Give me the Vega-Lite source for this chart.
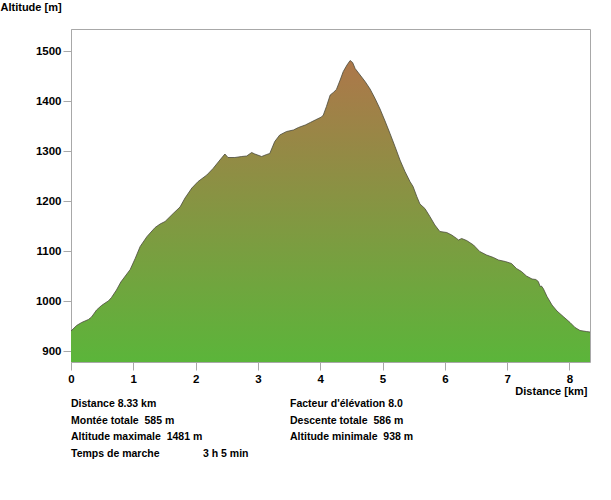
{
  "$schema": "https://vega.github.io/schema/vega-lite/v6.json",
  "width": 519,
  "height": 333,
  "autosize": "none",
  "padding": {"left": 71, "top": 29, "right": 21, "bottom": 138},
  "background": "white",
  "config": {
    "view": {"stroke": "#a8a8a8", "strokeWidth": 1},
    "font": "Liberation Sans"
  },
  "datasets": {
    "profile": [
      {"km": 0.00, "alt": 940}, {"km": 0.09, "alt": 951}, {"km": 0.17, "alt": 957},
      {"km": 0.28, "alt": 963}, {"km": 0.33, "alt": 968}, {"km": 0.41, "alt": 982},
      {"km": 0.49, "alt": 991}, {"km": 0.56, "alt": 997}, {"km": 0.60, "alt": 1000},
      {"km": 0.65, "alt": 1007}, {"km": 0.73, "alt": 1022}, {"km": 0.80, "alt": 1038},
      {"km": 0.86, "alt": 1048}, {"km": 0.95, "alt": 1063}, {"km": 1.03, "alt": 1085},
      {"km": 1.11, "alt": 1109}, {"km": 1.22, "alt": 1129}, {"km": 1.35, "alt": 1147},
      {"km": 1.43, "alt": 1154}, {"km": 1.51, "alt": 1159}, {"km": 1.64, "alt": 1175},
      {"km": 1.75, "alt": 1188}, {"km": 1.83, "alt": 1206}, {"km": 1.94, "alt": 1226},
      {"km": 2.04, "alt": 1239}, {"km": 2.18, "alt": 1252}, {"km": 2.28, "alt": 1265},
      {"km": 2.39, "alt": 1282}, {"km": 2.47, "alt": 1294}, {"km": 2.52, "alt": 1287},
      {"km": 2.63, "alt": 1287}, {"km": 2.74, "alt": 1289}, {"km": 2.82, "alt": 1290},
      {"km": 2.90, "alt": 1297}, {"km": 2.95, "alt": 1294}, {"km": 3.06, "alt": 1289},
      {"km": 3.14, "alt": 1293}, {"km": 3.19, "alt": 1295}, {"km": 3.27, "alt": 1319},
      {"km": 3.35, "alt": 1332}, {"km": 3.46, "alt": 1339}, {"km": 3.57, "alt": 1342},
      {"km": 3.65, "alt": 1347}, {"km": 3.76, "alt": 1352}, {"km": 3.84, "alt": 1357},
      {"km": 3.92, "alt": 1362}, {"km": 4.02, "alt": 1368}, {"km": 4.05, "alt": 1372},
      {"km": 4.10, "alt": 1389}, {"km": 4.16, "alt": 1412}, {"km": 4.21, "alt": 1417},
      {"km": 4.26, "alt": 1423}, {"km": 4.32, "alt": 1442}, {"km": 4.37, "alt": 1459},
      {"km": 4.43, "alt": 1472}, {"km": 4.48, "alt": 1481}, {"km": 4.52, "alt": 1477},
      {"km": 4.56, "alt": 1465}, {"km": 4.64, "alt": 1452}, {"km": 4.72, "alt": 1439},
      {"km": 4.80, "alt": 1424}, {"km": 4.88, "alt": 1405}, {"km": 4.96, "alt": 1384},
      {"km": 5.04, "alt": 1360}, {"km": 5.12, "alt": 1335}, {"km": 5.20, "alt": 1309},
      {"km": 5.28, "alt": 1282}, {"km": 5.36, "alt": 1259}, {"km": 5.44, "alt": 1239},
      {"km": 5.49, "alt": 1229}, {"km": 5.55, "alt": 1209}, {"km": 5.60, "alt": 1194},
      {"km": 5.68, "alt": 1185}, {"km": 5.76, "alt": 1169}, {"km": 5.84, "alt": 1152},
      {"km": 5.92, "alt": 1139}, {"km": 6.03, "alt": 1137}, {"km": 6.11, "alt": 1132},
      {"km": 6.19, "alt": 1125}, {"km": 6.22, "alt": 1122}, {"km": 6.27, "alt": 1125},
      {"km": 6.35, "alt": 1121}, {"km": 6.46, "alt": 1112}, {"km": 6.56, "alt": 1099},
      {"km": 6.67, "alt": 1092}, {"km": 6.78, "alt": 1087}, {"km": 6.86, "alt": 1082},
      {"km": 6.97, "alt": 1079}, {"km": 7.07, "alt": 1075}, {"km": 7.15, "alt": 1065},
      {"km": 7.23, "alt": 1059}, {"km": 7.31, "alt": 1050}, {"km": 7.40, "alt": 1044},
      {"km": 7.46, "alt": 1043}, {"km": 7.50, "alt": 1039}, {"km": 7.53, "alt": 1029},
      {"km": 7.55, "alt": 1030}, {"km": 7.58, "alt": 1025}, {"km": 7.64, "alt": 1009},
      {"km": 7.72, "alt": 992}, {"km": 7.80, "alt": 980}, {"km": 7.90, "alt": 969},
      {"km": 8.01, "alt": 957}, {"km": 8.09, "alt": 947}, {"km": 8.17, "alt": 941},
      {"km": 8.27, "alt": 939}, {"km": 8.33, "alt": 938}
    ],
    "stats": [
      {"col": 0, "line": 0, "text": "Distance 8.33 km"},
      {"col": 0, "line": 1, "text": "Montée totale\u00a0 585 m"},
      {"col": 0, "line": 2, "text": "Altitude maximale\u00a0 1481 m"},
      {"col": 0, "line": 3, "text": "Temps de marche", "value": "3 h 5 min"},
      {"col": 1, "line": 0, "text": "Facteur d'élévation 8.0"},
      {"col": 1, "line": 1, "text": "Descente totale\u00a0 586 m"},
      {"col": 1, "line": 2, "text": "Altitude minimale\u00a0 938 m"}
    ]
  },
  "layer": [
    {
      "data": {"name": "profile"},
      "layer": [
        {
          "mark": {
            "type": "area",
            "clip": true,
            "fill": {
              "gradient": "linear",
              "x1": 0, "y1": 0, "x2": 0, "y2": 1,
              "stops": [
                {"offset": 0, "color": "#ad774a"},
                {"offset": 1, "color": "#5bb53a"}
              ]
            }
          },
          "encoding": {
            "x": {
              "field": "km", "type": "quantitative",
              "scale": {"domain": [0, 8.33], "nice": false, "zero": false},
              "axis": {
                "values": [0, 1, 2, 3, 4, 5, 6, 7, 8],
                "format": "d",
                "grid": false,
                "domain": false,
                "tickColor": "#a8a8a8",
                "tickSize": 8,
                "labelFlush": false,
                "labelPadding": 3,
                "labelFont": "Liberation Sans",
                "labelFontSize": 11.5,
                "labelFontWeight": "bold",
                "labelColor": "#000000",
                "title": "Distance [km]",
                "titleFont": "Liberation Sans",
                "titleFontSize": 11,
                "titleFontWeight": "bold",
                "titleColor": "#000000",
                "titleAlign": "right",
                "titleBaseline": "middle",
                "titleX": 516,
                "titleY": 29
              }
            },
            "y": {
              "field": "alt", "type": "quantitative",
              "scale": {"domain": [878, 1544], "nice": false, "zero": false},
              "axis": {
                "values": [900, 1000, 1100, 1200, 1300, 1400, 1500],
                "format": "d",
                "grid": false,
                "domainColor": "#a8a8a8",
                "tickColor": "#a8a8a8",
                "tickSize": 8,
                "labelPadding": 2,
                "labelFont": "Liberation Sans",
                "labelFontSize": 11.5,
                "labelFontWeight": "bold",
                "labelColor": "#000000",
                "title": "Altitude [m]",
                "titleFont": "Liberation Sans",
                "titleFontSize": 11,
                "titleFontWeight": "bold",
                "titleColor": "#000000",
                "titleAngle": 0,
                "titleAlign": "left",
                "titleBaseline": "middle",
                "titleX": -71,
                "titleY": -22
              }
            },
            "y2": {"datum": 878}
          }
        },
        {
          "mark": {"type": "line", "color": "#4a4a3c", "strokeWidth": 0.8, "clip": true},
          "encoding": {
            "x": {"field": "km", "type": "quantitative"},
            "y": {"field": "alt", "type": "quantitative"}
          }
        }
      ]
    },
    {
      "data": {"name": "stats"},
      "encoding": {
        "x": {"field": "col", "type": "quantitative", "scale": {"domain": [0, 1], "range": [0, 219]}, "axis": null},
        "y": {"field": "line", "type": "quantitative", "scale": {"domain": [0, 3], "range": [375, 425]}, "axis": null}
      },
      "layer": [
        {
          "mark": {"type": "text", "align": "left", "baseline": "middle", "font": "Liberation Sans", "fontSize": 10.5, "fontWeight": "bold", "color": "#000000"},
          "encoding": {"text": {"field": "text"}}
        },
        {
          "transform": [{"filter": "datum.value"}],
          "mark": {"type": "text", "align": "left", "baseline": "middle", "dx": 132, "font": "Liberation Sans", "fontSize": 10.5, "fontWeight": "bold", "color": "#000000"},
          "encoding": {"text": {"field": "value"}}
        }
      ]
    }
  ],
  "resolve": {"scale": {"x": "independent", "y": "independent"}}
}
